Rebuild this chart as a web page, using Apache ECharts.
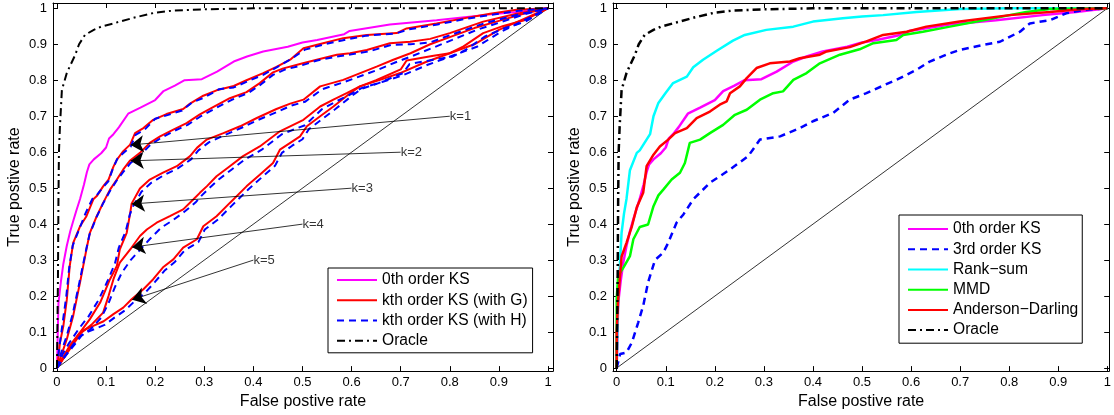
<!DOCTYPE html>
<html>
<head>
<meta charset="utf-8">
<script src="https://cdn.jsdelivr.net/npm/echarts@6/dist/echarts.min.js"></script>
<style>
html,body{margin:0;padding:0;background:#fff;}
#chart{width:1114px;height:415px;}
</style>
</head>
<body>
<div id="chart"></div>
<script>
// ---------- DATA ----------
const tickValues = [0, 0.1, 0.2, 0.3, 0.4, 0.5, 0.6, 0.7, 0.8, 0.9, 1];
const tickLabels = ['0', '0.1', '0.2', '0.3', '0.4', '0.5', '0.6', '0.7', '0.8', '0.9', '1'];

const diagonal = [[0, 0], [1, 1]];

// 0th order KS (same in both panels)
const ks0 = [[0,0],[0.001,0.06],[0.003,0.18],[0.008,0.24],[0.013,0.29],[0.02,0.34],[0.027,0.38],[0.034,0.413],[0.04,0.44],[0.047,0.47],[0.055,0.51],[0.061,0.545],[0.066,0.566],[0.075,0.58],[0.09,0.597],[0.1,0.613],[0.106,0.638],[0.115,0.65],[0.126,0.669],[0.145,0.707],[0.17,0.724],[0.2,0.745],[0.217,0.77],[0.24,0.785],[0.26,0.8],[0.295,0.803],[0.326,0.824],[0.36,0.852],[0.387,0.866],[0.42,0.88],[0.47,0.893],[0.5,0.905],[0.53,0.912],[0.585,0.928],[0.596,0.937],[0.678,0.955],[0.773,0.967],[0.868,0.981],[0.936,0.99],[1,1]];

// Oracle (same in both panels)
const oracle = [[0,0],[0.002,0.25],[0.003,0.47],[0.004,0.6],[0.006,0.67],[0.01,0.773],[0.02,0.82],[0.026,0.838],[0.037,0.87],[0.045,0.9],[0.057,0.926],[0.075,0.94],[0.09,0.949],[0.115,0.958],[0.16,0.975],[0.2,0.988],[0.24,0.994],[0.3,0.997],[0.4,1],[1,1]];

// kth order KS (with G), k = 1..5
const ksG1 = [[0,0],[0.003,0.03],[0.006,0.07],[0.013,0.117],[0.02,0.19],[0.026,0.284],[0.033,0.348],[0.047,0.394],[0.06,0.422],[0.074,0.469],[0.081,0.478],[0.094,0.505],[0.105,0.524],[0.115,0.56],[0.122,0.579],[0.135,0.603],[0.149,0.621],[0.159,0.653],[0.176,0.667],[0.196,0.69],[0.223,0.706],[0.257,0.72],[0.271,0.735],[0.298,0.757],[0.325,0.772],[0.36,0.784],[0.386,0.8],[0.42,0.82],[0.447,0.837],[0.475,0.857],[0.502,0.889],[0.542,0.903],[0.583,0.917],[0.631,0.926],[0.692,0.931],[0.712,0.944],[0.773,0.958],[0.828,0.972],[0.882,0.985],[0.936,0.996],[1,1]];
const ksG2 = [[0,0],[0.01,0.04],[0.02,0.08],[0.033,0.145],[0.047,0.238],[0.06,0.33],[0.067,0.376],[0.081,0.422],[0.094,0.459],[0.108,0.496],[0.122,0.524],[0.135,0.552],[0.149,0.577],[0.169,0.598],[0.189,0.626],[0.21,0.644],[0.237,0.663],[0.264,0.681],[0.291,0.705],[0.318,0.725],[0.352,0.75],[0.386,0.767],[0.413,0.792],[0.44,0.822],[0.461,0.833],[0.495,0.845],[0.529,0.857],[0.57,0.871],[0.597,0.875],[0.631,0.884],[0.678,0.903],[0.719,0.907],[0.76,0.915],[0.8,0.931],[0.868,0.963],[0.936,0.985],[1,1]];
const ksG3 = [[0,0],[0.012,0.03],[0.026,0.062],[0.047,0.099],[0.067,0.136],[0.088,0.182],[0.108,0.247],[0.122,0.284],[0.128,0.33],[0.142,0.376],[0.149,0.43],[0.152,0.457],[0.169,0.499],[0.189,0.524],[0.216,0.543],[0.244,0.561],[0.271,0.589],[0.285,0.612],[0.305,0.635],[0.339,0.653],[0.373,0.672],[0.407,0.695],[0.447,0.72],[0.475,0.735],[0.502,0.746],[0.536,0.783],[0.583,0.801],[0.651,0.838],[0.685,0.857],[0.72,0.875],[0.76,0.9],[0.8,0.92],[0.85,0.945],[0.9,0.965],[0.95,0.985],[1,1]];
const ksG4 = [[0,0],[0.015,0.03],[0.03,0.06],[0.05,0.099],[0.07,0.12],[0.094,0.154],[0.105,0.2],[0.115,0.247],[0.128,0.293],[0.152,0.335],[0.169,0.367],[0.183,0.385],[0.203,0.404],[0.23,0.422],[0.257,0.441],[0.278,0.469],[0.291,0.487],[0.305,0.505],[0.325,0.533],[0.352,0.561],[0.379,0.589],[0.413,0.616],[0.454,0.658],[0.502,0.69],[0.536,0.727],[0.563,0.746],[0.59,0.764],[0.617,0.783],[0.658,0.801],[0.699,0.82],[0.75,0.85],[0.8,0.875],[0.85,0.9],[0.9,0.94],[0.95,0.97],[1,1]];
const ksG5 = [[0,0],[0.01,0.02],[0.02,0.045],[0.033,0.071],[0.045,0.095],[0.054,0.105],[0.074,0.117],[0.095,0.13],[0.115,0.15],[0.135,0.168],[0.152,0.191],[0.176,0.219],[0.196,0.247],[0.216,0.28],[0.237,0.302],[0.257,0.335],[0.285,0.358],[0.298,0.394],[0.325,0.422],[0.352,0.459],[0.386,0.505],[0.413,0.537],[0.44,0.57],[0.454,0.607],[0.475,0.626],[0.495,0.644],[0.509,0.672],[0.536,0.7],[0.563,0.727],[0.597,0.764],[0.617,0.783],[0.65,0.8],[0.7,0.83],[0.712,0.855],[0.767,0.868],[0.8,0.875],[0.828,0.894],[0.868,0.931],[0.909,0.951],[0.95,0.966],[1,1]];

// kth order KS (with H), k = 1..5
const ksH1 = [[0,0],[0.003,0.04],[0.007,0.08],[0.012,0.13],[0.019,0.2],[0.025,0.28],[0.032,0.34],[0.045,0.385],[0.058,0.43],[0.072,0.47],[0.082,0.482],[0.092,0.5],[0.105,0.52],[0.114,0.555],[0.123,0.582],[0.137,0.6],[0.15,0.615],[0.16,0.648],[0.178,0.662],[0.2,0.693],[0.225,0.703],[0.255,0.716],[0.275,0.738],[0.3,0.752],[0.33,0.775],[0.36,0.78],[0.39,0.798],[0.42,0.815],[0.45,0.838],[0.48,0.862],[0.505,0.885],[0.545,0.9],[0.585,0.912],[0.63,0.924],[0.69,0.93],[0.715,0.941],[0.775,0.955],[0.83,0.97],[0.885,0.982],[0.94,0.993],[1,1]];
const ksH2 = [[0,0],[0.01,0.05],[0.02,0.09],[0.032,0.15],[0.046,0.24],[0.058,0.32],[0.066,0.37],[0.08,0.418],[0.093,0.455],[0.107,0.49],[0.121,0.52],[0.135,0.545],[0.15,0.57],[0.17,0.592],[0.19,0.62],[0.212,0.64],[0.24,0.66],[0.266,0.676],[0.293,0.7],[0.32,0.72],[0.355,0.745],[0.39,0.765],[0.415,0.788],[0.44,0.815],[0.465,0.83],[0.5,0.842],[0.53,0.855],[0.57,0.866],[0.6,0.872],[0.635,0.88],[0.68,0.898],[0.72,0.9],[0.76,0.905],[0.8,0.925],[0.87,0.958],[0.94,0.983],[1,1]];
const ksH3 = [[0,0],[0.012,0.04],[0.025,0.07],[0.045,0.11],[0.065,0.145],[0.085,0.19],[0.104,0.245],[0.118,0.29],[0.126,0.335],[0.14,0.38],[0.148,0.425],[0.155,0.45],[0.172,0.49],[0.192,0.515],[0.22,0.538],[0.246,0.555],[0.273,0.58],[0.288,0.605],[0.31,0.628],[0.342,0.648],[0.376,0.668],[0.41,0.69],[0.45,0.713],[0.478,0.73],[0.505,0.74],[0.54,0.775],[0.585,0.795],[0.655,0.83],[0.69,0.85],[0.725,0.868],[0.765,0.89],[0.805,0.912],[0.855,0.94],[0.905,0.962],[0.952,0.983],[1,1]];
const ksH4 = [[0,0],[0.015,0.03],[0.03,0.055],[0.05,0.09],[0.07,0.11],[0.09,0.14],[0.105,0.18],[0.118,0.225],[0.132,0.265],[0.15,0.3],[0.17,0.33],[0.19,0.36],[0.212,0.39],[0.235,0.41],[0.26,0.435],[0.282,0.46],[0.295,0.48],[0.31,0.5],[0.33,0.525],[0.356,0.552],[0.383,0.58],[0.417,0.607],[0.458,0.65],[0.505,0.675],[0.54,0.72],[0.567,0.74],[0.594,0.758],[0.62,0.778],[0.662,0.795],[0.703,0.813],[0.755,0.843],[0.805,0.868],[0.855,0.893],[0.905,0.935],[0.952,0.967],[1,1]];
const ksH5 = [[0,0],[0.01,0.02],[0.02,0.04],[0.033,0.065],[0.047,0.088],[0.058,0.098],[0.076,0.108],[0.097,0.12],[0.117,0.14],[0.138,0.16],[0.156,0.183],[0.18,0.21],[0.2,0.24],[0.22,0.272],[0.24,0.295],[0.26,0.327],[0.288,0.35],[0.301,0.385],[0.328,0.413],[0.355,0.45],[0.39,0.497],[0.417,0.53],[0.444,0.562],[0.458,0.598],[0.479,0.618],[0.5,0.636],[0.513,0.664],[0.54,0.692],[0.567,0.72],[0.6,0.756],[0.62,0.776],[0.655,0.792],[0.705,0.82],[0.718,0.845],[0.77,0.858],[0.805,0.865],[0.833,0.885],[0.872,0.922],[0.912,0.945],[0.953,0.962],[1,1]];

// annotations
const kLabels = ['k=1', 'k=2', 'k=3', 'k=4', 'k=5'];
const kTextPos = [[0.8, 0.7], [0.7, 0.6], [0.6, 0.5], [0.5, 0.4], [0.4, 0.3]];
const kTipPos = [[0.15, 0.62], [0.15, 0.576], [0.152, 0.456], [0.153, 0.336], [0.153, 0.19]];

// right panel
const ks3 = [[0,0],[0.003,0.016],[0.007,0.039],[0.02,0.043],[0.031,0.071],[0.044,0.127],[0.054,0.173],[0.064,0.238],[0.078,0.3],[0.095,0.321],[0.105,0.348],[0.122,0.404],[0.136,0.427],[0.156,0.469],[0.19,0.515],[0.231,0.552],[0.268,0.589],[0.292,0.635],[0.333,0.644],[0.373,0.667],[0.4,0.686],[0.441,0.709],[0.475,0.746],[0.509,0.764],[0.543,0.785],[0.57,0.801],[0.611,0.829],[0.638,0.852],[0.679,0.875],[0.699,0.884],[0.747,0.898],[0.781,0.907],[0.822,0.935],[0.842,0.958],[0.883,0.967],[0.916,0.986],[0.95,0.995],[1,1]];
const rankSum = [[0,0],[0.002,0.15],[0.004,0.22],[0.007,0.3],[0.01,0.376],[0.015,0.43],[0.02,0.47],[0.027,0.55],[0.041,0.598],[0.047,0.605],[0.068,0.65],[0.075,0.7],[0.085,0.737],[0.1,0.765],[0.115,0.792],[0.143,0.81],[0.156,0.836],[0.176,0.857],[0.204,0.882],[0.237,0.91],[0.261,0.926],[0.305,0.94],[0.36,0.949],[0.4,0.963],[0.461,0.972],[0.5,0.977],[0.543,0.981],[0.611,0.99],[0.7,0.998],[0.8,1],[1,1]];
const mmd = [[0,0],[0,0.1],[0,0.191],[0.003,0.256],[0.014,0.28],[0.027,0.311],[0.034,0.358],[0.047,0.392],[0.064,0.399],[0.075,0.45],[0.085,0.48],[0.095,0.496],[0.112,0.524],[0.129,0.543],[0.139,0.57],[0.149,0.626],[0.17,0.635],[0.19,0.653],[0.217,0.676],[0.241,0.704],[0.265,0.718],[0.292,0.746],[0.319,0.764],[0.339,0.769],[0.36,0.801],[0.387,0.82],[0.414,0.847],[0.455,0.871],[0.495,0.886],[0.523,0.903],[0.57,0.912],[0.584,0.926],[0.624,0.935],[0.679,0.949],[0.747,0.967],[0.835,0.99],[0.883,0.998],[1,1]];
const andersonDarling = [[0,0],[0,0.1],[0.003,0.19],[0.01,0.31],[0.02,0.348],[0.031,0.394],[0.041,0.447],[0.054,0.487],[0.061,0.561],[0.075,0.593],[0.088,0.616],[0.105,0.635],[0.119,0.653],[0.143,0.667],[0.163,0.695],[0.19,0.713],[0.21,0.732],[0.224,0.741],[0.231,0.764],[0.251,0.783],[0.265,0.806],[0.285,0.834],[0.312,0.847],[0.353,0.852],[0.373,0.861],[0.414,0.871],[0.428,0.88],[0.475,0.892],[0.509,0.908],[0.543,0.926],[0.591,0.935],[0.631,0.949],[0.699,0.963],[0.801,0.981],[0.883,0.99],[0.95,0.998],[1,1]];

const leftLegend = ['0th order KS', 'kth order KS (with G)', 'kth order KS (with H)', 'Oracle'];
const rightLegend = ['0th order KS', '3rd order KS', 'Rank\u2212sum', 'MMD', 'Anderson\u2212Darling', 'Oracle'];
const axisTitleX = 'False postive rate';
const axisTitleY = 'True postive rate';

// ---------- CHART ----------
const FONT = '"Liberation Sans", Arial, Helvetica, sans-serif';
const chart = echarts.init(document.getElementById('chart'), null, {renderer: 'canvas'});

function xAx(grid, pos, min, max, showLabel) {
  return {
    type: 'value', gridIndex: grid, position: pos, min: min, max: max,
    name: showLabel ? axisTitleX : '', nameLocation: 'middle', nameGap: 19,
    nameTextStyle: {fontSize: 16, color: '#000', fontFamily: FONT},
    axisLine: {show: true, onZero: false, lineStyle: {color: '#000', width: 1}},
    axisTick: {show: true, inside: true, length: 5, customValues: tickValues, lineStyle: {color: '#000', width: 1}},
    axisLabel: {show: showLabel, customValues: tickValues, margin: 5, fontSize: 13, color: '#000', fontFamily: FONT,
      formatter: v => tickLabels[Math.round(v * 10)]},
    splitLine: {show: false}
  };
}
function yAx(grid, pos, min, max, showLabel) {
  return {
    type: 'value', gridIndex: grid, position: pos, min: min, max: max,
    name: showLabel ? axisTitleY : '', nameLocation: 'middle', nameGap: 30,
    nameTextStyle: {fontSize: 16, color: '#000', fontFamily: FONT},
    axisLine: {show: true, onZero: false, lineStyle: {color: '#000', width: 1}},
    axisTick: {show: true, inside: true, length: 5, customValues: tickValues, lineStyle: {color: '#000', width: 1}},
    axisLabel: {show: showLabel, customValues: tickValues, margin: 6, fontSize: 13, color: '#000', fontFamily: FONT,
      formatter: v => tickLabels[Math.round(v * 10)]},
    splitLine: {show: false}
  };
}
function line(name, data, color, width, type, xi, yi, z) {
  return {
    type: 'line', name: name, data: data, xAxisIndex: xi, yAxisIndex: yi,
    symbol: 'none', showSymbol: false, smooth: false, z: z || 2,
    lineStyle: {color: color, width: width, type: type || 'solid'},
    itemStyle: {color: color},
    emphasis: {disabled: true}
  };
}

const dashDot = [8, 4, 2, 4];
const dashed = [7, 5];
const series = [];
// left panel (axes 0)
series.push(line('diag', diagonal, '#000', 0.8, 'solid', 0, 0, 1));
series.push(line(leftLegend[0], ks0, '#ff00ff', 2, 'solid', 0, 0));
[ksG1, ksG2, ksG3, ksG4, ksG5].forEach(d => series.push(line(leftLegend[1], d, '#ff0000', 2, 'solid', 0, 0, 3)));
[ksH1, ksH2, ksH3, ksH4, ksH5].forEach(d => series.push(line(leftLegend[2], d, '#0000ff', 2, dashed, 0, 0, 4)));
series.push(line(leftLegend[3], oracle, '#000', 2, dashDot, 0, 0, 5));
series.push({
  type: 'lines', coordinateSystem: 'cartesian2d', xAxisIndex: 0, yAxisIndex: 0, z: 6,
  symbol: ['none', 'arrow'], symbolSize: [11, 13],
  lineStyle: {color: '#000', width: 0.8, opacity: 1, curveness: 0},
  data: kTextPos.map((p, i) => ({coords: [p, kTipPos[i]]}))
});
series.push({
  type: 'scatter', xAxisIndex: 0, yAxisIndex: 0, symbolSize: 0, z: 6,
  data: kTextPos.map((p, i) => ({value: p, name: kLabels[i]})),
  label: {show: true, position: 'right', distance: 0, formatter: p => p.name,
    fontSize: 13, color: '#000', fontFamily: FONT},
  emphasis: {disabled: true}
});
// right panel (axes 2)
series.push(line('diag2', diagonal, '#000', 0.8, 'solid', 2, 2, 1));
series.push(line(rightLegend[0], ks0, '#ff00ff', 2.5, 'solid', 2, 2));
series.push(line(rightLegend[1], ks3, '#0000ff', 2.5, dashed, 2, 2));
series.push(line(rightLegend[2], rankSum, '#00ffff', 2.5, 'solid', 2, 2));
series.push(line(rightLegend[3], mmd, '#00ff00', 2.5, 'solid', 2, 2));
series.push(line(rightLegend[4], andersonDarling, '#ff0000', 2.5, 'solid', 2, 2));
series.push(line(rightLegend[5], oracle, '#000', 2.5, dashDot, 2, 2, 5));

const legendCommon = {
  orient: 'vertical', itemWidth: 40, itemHeight: 14, itemGap: 0,
  backgroundColor: '#fff', borderColor: '#000', borderWidth: 1, borderRadius: 0,
  itemStyle: {opacity: 0, borderWidth: 0},
  textStyle: {fontSize: 15.6, color: '#000', fontFamily: FONT, lineHeight: 20.2},
  selectedMode: false
};

chart.setOption({
  animation: false,
  backgroundColor: '#fff',
  grid: [
    {left: 53, top: 3, width: 500, height: 369},
    {left: 613, top: 3, width: 497, height: 369}
  ],
  xAxis: [
    xAx(0, 'bottom', -0.0081, 1.0102, true),
    xAx(0, 'top', -0.0081, 1.0102, false),
    xAx(1, 'bottom', -0.0075, 1.0037, true),
    xAx(1, 'top', -0.0075, 1.0037, false)
  ],
  yAxis: [
    yAx(0, 'left', -0.0085, 1.0147, true),
    yAx(0, 'right', -0.0085, 1.0147, false),
    yAx(1, 'left', -0.0085, 1.0147, true),
    yAx(1, 'right', -0.0085, 1.0147, false)
  ],
  legend: [
    Object.assign({}, legendCommon, {data: leftLegend, left: 328, top: 268, padding: [2, 5, 2, 8]}),
    Object.assign({}, legendCommon, {data: rightLegend, left: 899, top: 215, padding: [4, 4, 3, 8]})
  ],
  series: series
});
</script>
</body>
</html>
